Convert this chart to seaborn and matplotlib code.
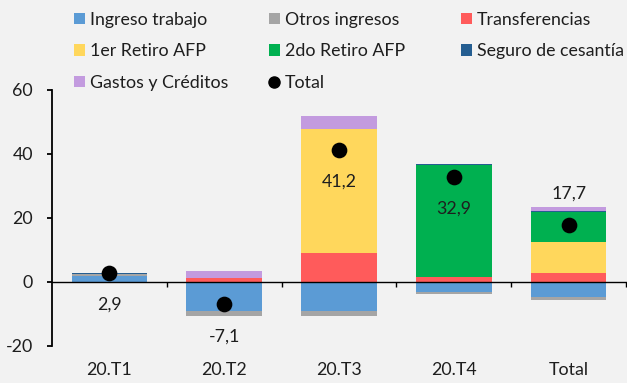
import matplotlib
matplotlib.use("Agg")
import matplotlib.pyplot as plt
from matplotlib.patches import Patch
from matplotlib.lines import Line2D
import numpy as np
import seaborn as sns

# Quarterly contributions (percentage points) to household liquidity
categories = ["20.T1", "20.T2", "20.T3", "20.T4", "Total"]
ingreso_trabajo = [1.8, -9.1, -9.2, -3.3, -4.9]
otros_ingresos = [0.7, -1.5, -1.6, -0.6, -0.8]
transferencias = [0.0, 1.1, 8.9, 1.4, 2.7]
retiro_1 = [0.0, 0.0, 38.8, 0.0, 9.6]
retiro_2 = [0.0, 0.0, 0.0, 35.1, 9.6]
seguro_cesantia = [0.4, 0.2, 0.0, 0.3, 0.2]
gastos_creditos = [0.0, 2.2, 4.3, 0.0, 1.3]
total = [2.9, -7.1, 41.2, 32.9, 17.7]

series_names = ["Ingreso trabajo", "Otros ingresos", "Transferencias",
                "1er Retiro AFP", "2do Retiro AFP", "Seguro de cesantía",
                "Gastos y Créditos"]
series_values = [ingreso_trabajo, otros_ingresos, transferencias,
                 retiro_1, retiro_2, seguro_cesantia, gastos_creditos]
series_colors = ["#5B9BD5", "#A5A5A5", "#FF5B5B", "#FFD75C", "#00B050",
                 "#255E91", "#C39BDF"]

BG = "#F2F2F2"
TXT = "#1E1E1E"

sns.set_theme(style="white", rc={"figure.facecolor": BG, "axes.facecolor": BG})
plt.rcParams["font.family"] = ["Lato", "DejaVu Sans"]
plt.rcParams["axes.unicode_minus"] = False
FS = 12.8

fig = plt.figure(figsize=(6.27, 3.83), dpi=100)
ax = fig.add_axes([52 / 627, 1 - 345.7 / 383, 574 / 627, (345.7 - 90) / 383])

# stacked bars: positives stack upward, negatives downward
pos_cum = np.zeros(len(categories))
neg_cum = np.zeros(len(categories))
for name, vals, col in zip(series_names, series_values, series_colors):
    v = np.array(vals, dtype=float)
    bottom = np.where(v >= 0, pos_cum, neg_cum)
    sns.barplot(x=categories, y=v, bottom=bottom, color=col, saturation=1,
                width=0.66, errorbar=None, linewidth=0, ax=ax, zorder=2)
    pos_cum = pos_cum + np.where(v > 0, v, 0)
    neg_cum = neg_cum + np.where(v < 0, v, 0)

# total markers
sns.stripplot(x=categories, y=total, jitter=False, color="black", size=11.3,
              linewidth=0, ax=ax, zorder=4)

# value labels
for i, t in enumerate(total):
    off = 23 if categories[i] == "Total" else -23
    ax.annotate(f"{t:.1f}".replace(".", ","), (i, t), xytext=(0, off),
                textcoords="offset points", ha="center", va="center",
                fontsize=FS, color=TXT, zorder=5)

ax.set_xlim(-0.5, len(categories) - 0.5)
ax.set_ylim(-20, 60)
ax.set_yticks([-20, 0, 20, 40, 60])
ax.set_xlabel("")
ax.set_ylabel("")

for s in ["top", "right"]:
    ax.spines[s].set_visible(False)
ax.spines["left"].set_color("black")
ax.spines["left"].set_linewidth(1.3)
ax.spines["bottom"].set_position(("data", 0))
ax.spines["bottom"].set_color("black")
ax.spines["bottom"].set_linewidth(1.0)
ax.spines["bottom"].set_zorder(3)

ax.set_xticks(np.arange(len(categories)))
ax.set_xticklabels(categories)
ax.set_xticks(np.arange(len(categories)) + 0.5, minor=True)
ax.tick_params(axis="x", which="major", length=0, pad=58, labelsize=FS,
               labelcolor=TXT)
ax.tick_params(axis="x", which="minor", bottom=True, length=3.6, width=1,
               color="black", direction="out")
ax.tick_params(axis="y", left=True, length=3.6, width=1.3, color="black",
               direction="out", pad=10, labelsize=FS, labelcolor=TXT)

# legend laid out in three fixed columns
handles = [Patch(facecolor=c, edgecolor="none") for c in series_colors]
handles.append(Line2D([], [], marker="o", linestyle="none", color="black",
                      markersize=8))
labels = series_names + ["Total"]
cols = [[0, 3, 6], [1, 4, 7], [2, 5]]
col_x = [74, 269, 461]
for idx, x in zip(cols, col_x):
    fig.legend([handles[k] for k in idx], [labels[k] for k in idx],
               loc="upper left", bbox_to_anchor=(x / 627, 1 - 12 / 383),
               frameon=False, fontsize=FS, handlelength=0.6, handleheight=0.6,
               handletextpad=0.3, labelspacing=0.86, borderpad=0,
               borderaxespad=0, labelcolor=TXT)

fig.savefig("out.png", dpi=100, facecolor=BG)
